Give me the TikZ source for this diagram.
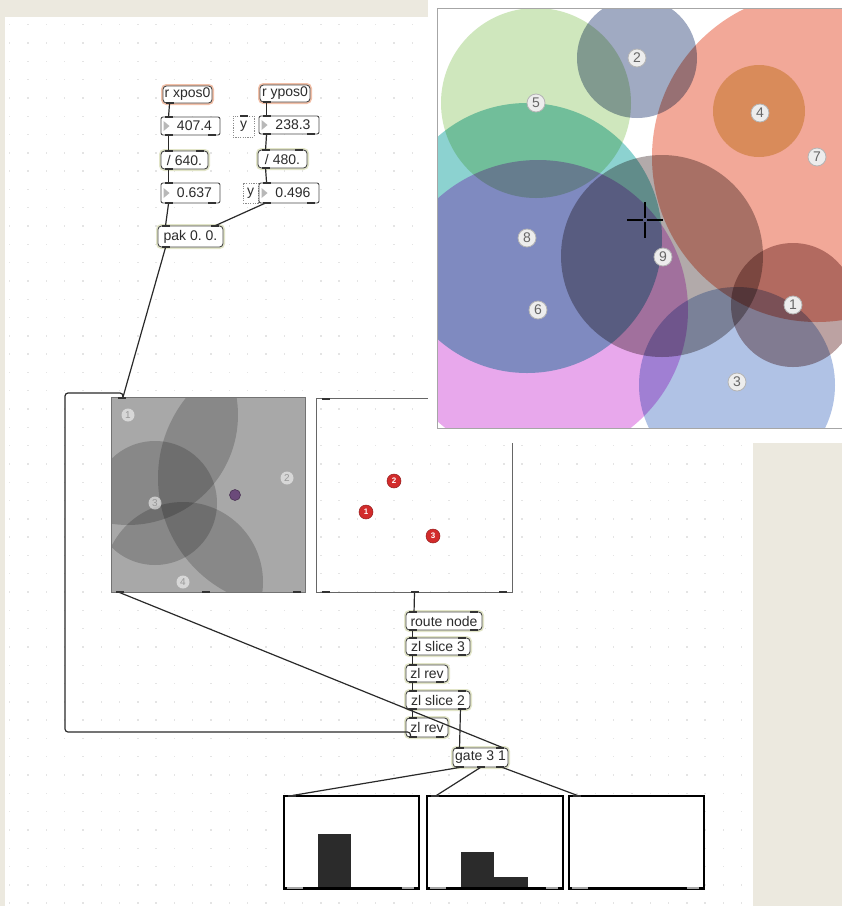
\documentclass[tikz,border=0pt]{standalone}
\usepackage{fontspec}
\setmainfont{Liberation Sans}
\usetikzlibrary{calc}
\frenchspacing

\definecolor{deskbg}{HTML}{ECE9DF}
\definecolor{griddot}{HTML}{E4E4E4}
\definecolor{txt}{HTML}{2B2B2B}
\definecolor{boxline}{HTML}{4A4A4A}
\definecolor{glowO}{HTML}{F2C0A8}
\definecolor{glowY}{HTML}{E2E5C8}
\definecolor{pinc}{HTML}{333333}
\definecolor{cordc}{HTML}{2A2A2A}
\definecolor{tri}{HTML}{B8B8B8}
\definecolor{dotbox}{HTML}{8C8C8C}
\definecolor{nodesbg}{HTML}{D0D0D0}
\definecolor{knob}{HTML}{6B4A7A}
\definecolor{reddot}{HTML}{D22B2B}
\definecolor{barc}{HTML}{2B2B2B}
\definecolor{cfive}{HTML}{CFE7BD}
\definecolor{ctwo}{HTML}{A0AAC2}
\definecolor{cseven}{HTML}{F2A898}
\definecolor{cfour}{HTML}{E5D497}
\definecolor{ceight}{HTML}{8CD2D0}
\definecolor{csix}{HTML}{E8A8EC}
\definecolor{cnine}{HTML}{B2AAAA}
\definecolor{cone}{HTML}{BCA2A2}
\definecolor{cthree}{HTML}{B0C2E5}
\definecolor{tagfill}{HTML}{EDEDED}
\definecolor{tagline}{HTML}{B4B4B4}
\definecolor{tagtxt}{HTML}{666666}

\tikzset{
  maxfont/.style={font=\fontsize{14}{14}\selectfont\frenchspacing},
  objbox/.style={draw=boxline, line width=0.9pt, rounded corners=3.5pt, fill=white,
    inner sep=0pt, text=txt, maxfont},
  glowo/.style={preaction={draw=glowO, line width=4pt, rounded corners=4pt}},
  glowy/.style={preaction={draw=glowY, line width=4pt, rounded corners=4pt}},
  numbox/.style={draw=boxline, line width=0.9pt, rounded corners=2pt, fill=white,
    inner sep=0pt, text=txt, maxfont},
  msgbox/.style={draw=dotbox, line width=0.7pt, dash pattern=on 1.2pt off 1.2pt,
    fill=white, inner sep=0pt, text=txt, maxfont},
  panel/.style={inner sep=0pt},
  histbox/.style={draw=black, line width=1.1pt, fill=white, inner sep=0pt},
  cord/.style={draw=cordc, line width=1.2pt},
  tag/.style={circle, fill=tagfill, draw=tagline, line width=0.8pt, inner sep=0pt,
    minimum size=18pt, text=tagtxt, font=\fontsize{14}{14}\selectfont},
  smalltag/.style={circle, fill=white, fill opacity=0.55, text opacity=1, inner sep=0pt,
    minimum size=13pt, text=black!40, font=\fontsize{10}{10}\selectfont},
  rdot/.style={circle, fill=reddot, draw=reddot!70!black, line width=0.5pt, inner sep=0pt,
    minimum size=14pt, text=white, font=\fontsize{8}{8}\selectfont\bfseries},
}
\newcommand{\pin}[2]{\fill[pinc] ($(#1)+(#2)+(-4,-1)$) rectangle ($(#1)+(#2)+(4,1)$);}
\newcommand{\numtri}[1]{\fill[tri] ($(#1.west)+(3,-5)$) -- ($(#1.west)+(3,5)$) -- ($(#1.west)+(9,0)$) -- cycle;}

\begin{document}
\begin{tikzpicture}[x=1pt,y=-1pt]
\useasboundingbox (0,0) rectangle (842,906);

% desk and patcher canvas
\fill[deskbg] (0,0) rectangle (842,906);
\fill[white] (5,17) rectangle (753,906);
\foreach \i in {0,...,40}{\foreach \j in {0,...,48}{
  \fill[griddot] ({9+18.3*\i},{24+18.3*\j}) rectangle ++(1.4,1.4);}}

% ---- upper chain: receive, scale, pack
\node[objbox, glowo, minimum width=49pt, minimum height=17pt] (rx) at (187.5,94.5) {r xpos0};
\node[objbox, glowo, minimum width=50pt, minimum height=17pt] (ry) at (285,93.5) {r ypos0};
\node[numbox, minimum width=59pt, minimum height=18pt] (nx) at (190.5,126) {\hspace*{8pt}407.4};
\node[msgbox, minimum width=21pt, minimum height=21pt] (ym1) at (243.5,126.5) {y};
\node[numbox, minimum width=60pt, minimum height=18pt] (ny) at (289,125) {\hspace*{8pt}238.3};
\node[objbox, glowy, minimum width=47pt, minimum height=18pt] (dx) at (184.5,160) {/ 640.};
\node[objbox, glowy, minimum width=49pt, minimum height=18pt] (dy) at (282.5,159) {/ 480.};
\node[numbox, minimum width=59pt, minimum height=20pt] (qx) at (190.5,193) {\hspace*{8pt}0.637};
\node[msgbox, minimum width=15pt, minimum height=20pt] (ym2) at (250.5,193) {y};
\node[numbox, minimum width=60pt, minimum height=20pt] (qy) at (289,193) {\hspace*{8pt}0.496};
\node[objbox, glowy, minimum width=65pt, minimum height=21pt] (pak) at (190.5,236.5) {pak 0. 0.};
\numtri{nx} \numtri{ny} \numtri{qx} \numtri{qy}

% ---- nodes panel (grey, overlapping zones)
\node[panel, minimum width=193pt, minimum height=194pt] (nodes) at (208.5,495) {};
\begin{scope}
  \clip (nodes.north west) rectangle (nodes.south east);
  \fill[nodesbg] (nodes.north west) rectangle (nodes.south east);
  \fill[black, fill opacity=0.19] (128,415) circle[radius=110pt];
  \fill[black, fill opacity=0.19] (287,478) circle[radius=129pt];
  \fill[black, fill opacity=0.19] (155,503) circle[radius=62pt];
  \fill[black, fill opacity=0.19] (183,582) circle[radius=80pt];
\end{scope}
\draw[black!55, line width=0.9pt] (nodes.north west) rectangle (nodes.south east);
\node[smalltag] (n1) at (128,415) {1};
\node[smalltag] (n2) at (287,478) {2};
\node[smalltag] (n3) at (155,503) {3};
\node[smalltag] (n4) at (183,582) {4};
\node[circle, fill=knob, draw=knob!70!black, line width=0.6pt, minimum size=11pt, inner sep=0pt] (knobdot) at (235,495) {};

% ---- dot display panel
\node[panel, minimum width=195pt, minimum height=193pt] (dots) at (414.5,495.5) {};
\draw[black!60, line width=1pt] (dots.north west) rectangle (dots.south east);
\node[rdot] (d1) at (366,512) {1};
\node[rdot] (d2) at (394,481) {2};
\node[rdot] (d3) at (433,536) {3};

% ---- list processing chain
\node[objbox, glowy, minimum width=76pt, minimum height=18pt] (route) at (444,621) {route node};
\node[objbox, glowy, minimum width=64pt, minimum height=17pt] (sl3) at (438,646.5) {zl slice 3};
\node[objbox, glowy, minimum width=42pt, minimum height=17pt] (rev1) at (427,673.5) {zl rev};
\node[objbox, glowy, minimum width=64pt, minimum height=18pt] (sl2) at (438,700) {zl slice 2};
\node[objbox, glowy, minimum width=42pt, minimum height=19pt] (rev2) at (427,727.5) {zl rev};
\node[objbox, glowy, minimum width=55pt, minimum height=19pt] (gate) at (480.5,757.5) {gate 3 1};

% ---- histogram panels
\node[histbox, minimum width=135pt, minimum height=92pt] (h1) at (351.5,842) {};
\node[histbox, minimum width=136pt, minimum height=92pt] (h2) at (495,842) {};
\node[histbox, minimum width=135pt, minimum height=92pt] (h3) at (636.5,842) {};
\fill[barc] (318,834) rectangle (351,888);
\fill[barc] (461,852) rectangle (494,888);
\fill[barc] (494,877) rectangle (528,888);
\foreach \h in {h1,h2,h3}{
  \draw[black, line width=3pt] (\h.south west) -- (\h.south east);
  \draw[black!35, line width=2pt] ($(\h.south west)+(4,-0.5)$) -- ++(16,0);
  \draw[black!35, line width=2pt] ($(\h.south east)+(-18,-0.5)$) -- ++(12,0);
}

% ---- patch cords
\draw[cord] ($(rx.south west)+(7,0)$) -- ($(nx.north west)+(8,0)$);
\draw[cord] ($(ry.south west)+(7,0)$) -- ($(ny.north west)+(8,0)$);
\draw[cord] ($(nx.south west)+(8,0)$) -- ($(dx.north west)+(8,0)$);
\draw[cord] ($(ny.south west)+(8,0)$) -- ($(dy.north west)+(8,0)$);
\draw[cord] ($(dx.south west)+(8,0)$) -- ($(qx.north west)+(8,0)$);
\draw[cord] ($(dy.south west)+(8,0)$) -- ($(qy.north west)+(8,0)$);
\draw[cord] ($(qx.south west)+(8,0)$) -- ($(pak.north west)+(8,0)$);
\draw[cord] ($(qy.south west)+(6,0)$) -- ($(pak.north east)+(-8,0)$);
\draw[cord] ($(pak.south west)+(8,0)$) -- ($(nodes.north west)+(11,0)$);
\draw[cord] ($(nodes.south west)+(7,0)$) -- ($(gate.north east)+(-6,0)$);
\draw[cord] (dots.south) -- ($(route.north west)+(8.5,0)$);
\draw[cord] ($(route.south west)+(7,0)$) -- ($(sl3.north west)+(7,0)$);
\draw[cord] ($(sl3.south west)+(7,0)$) -- ($(rev1.north west)+(7,0)$);
\draw[cord] ($(rev1.south west)+(7,0)$) -- ($(sl2.north west)+(7,0)$);
\draw[cord] ($(sl2.south west)+(7,0)$) -- ($(rev2.north west)+(7,0)$);
\draw[cord] ($(sl2.south east)+(-10,0)$) -- ($(gate.north west)+(7,0)$);
\coordinate (loopA) at (65,732);
\coordinate (loopB) at (65,393);
\coordinate (loopC) at (123,393);
\draw[cord, rounded corners=3pt] ($(rev2.south west)+(5,0)$) |- (loopA) -- (loopB) -- (loopC)
  -- ($(nodes.north west)+(11,0)$);
\draw[cord] ($(gate.south west)+(7,0)$) -- ($(h1.north west)+(9,0)$);
\draw[cord] (gate.south) -- ($(h2.north west)+(10,0)$);
\draw[cord] ($(gate.south east)+(-6,0)$) -- ($(h3.north west)+(9,0)$);

% ---- inlets and outlets
\pin{rx.south west}{7,-0.5} \pin{ry.south west}{7,-0.5}
\foreach \b in {nx,ny,qx,qy}{
  \pin{\b.north west}{8,0.5} \pin{\b.south west}{8,-0.5} \pin{\b.south east}{-8,-0.5}}
\foreach \b in {dx,dy,pak}{
  \pin{\b.north west}{8,0.5} \pin{\b.north east}{-8,0.5} \pin{\b.south west}{8,-0.5}}
\pin{ym1.north}{0,0.5}
\foreach \b in {route,sl3,sl2,gate}{
  \pin{\b.north west}{7,0.5} \pin{\b.north east}{-8,0.5} \pin{\b.south west}{7,-0.5} \pin{\b.south east}{-8,-0.5}}
\foreach \b in {rev1,rev2}{
  \pin{\b.north west}{7,0.5} \pin{\b.south west}{7,-0.5} \pin{\b.south east}{-8,-0.5}}
\pin{gate.south}{0,-0.5}
\pin{nodes.north west}{10,0.5} \pin{nodes.south west}{8,-0.5} \pin{nodes.south}{-3,-0.5} \pin{nodes.south east}{-8,-0.5}
\pin{dots.north west}{9,0.5} \pin{dots.south west}{9,-0.5} \pin{dots.south}{0,-0.5} \pin{dots.south east}{-9,-0.5}
\foreach \h in {h1,h2,h3}{\pin{\h.north west}{9,0.5}}

% ---- colour node map in its window
\fill[white] (428,0) rectangle (842,443);
\begin{scope}
  \clip (437,8) rectangle (842,428);
  \begin{scope}[blend mode=multiply]
    \fill[cfive] (536,103) circle[radius=95pt];
    \fill[ctwo] (637,58) circle[radius=60pt];
    \fill[cseven] (817,157) circle[radius=165pt];
    \fill[cfour] (759,111) circle[radius=46pt];
    \fill[ceight] (527,238) circle[radius=135pt];
    \fill[csix] (538,310) circle[radius=150pt];
    \fill[cnine] (662,256) circle[radius=101pt];
    \fill[cone] (793,305) circle[radius=62pt];
    \fill[cthree] (737,385) circle[radius=98pt];
  \end{scope}
\end{scope}
\draw[black!35, line width=0.8pt] (437,8) rectangle (842,428);
\node[tag] (t1) at (793,305) {1};
\node[tag] (t2) at (637,58) {2};
\node[tag] (t3) at (737,382) {3};
\node[tag] (t4) at (760,113) {4};
\node[tag] (t5) at (536,103) {5};
\node[tag] (t6) at (538,310) {6};
\node[tag] (t7) at (817,157) {7};
\node[tag] (t8) at (527,238) {8};
\node[tag] (t9) at (663,257) {9};
% cursor crosshair
\draw[black, line width=1.8pt] (627,220) -- (643,220) (647,220) -- (663,220)
  (645,202) -- (645,218) (645,222) -- (645,238);
\end{tikzpicture}
\end{document}
